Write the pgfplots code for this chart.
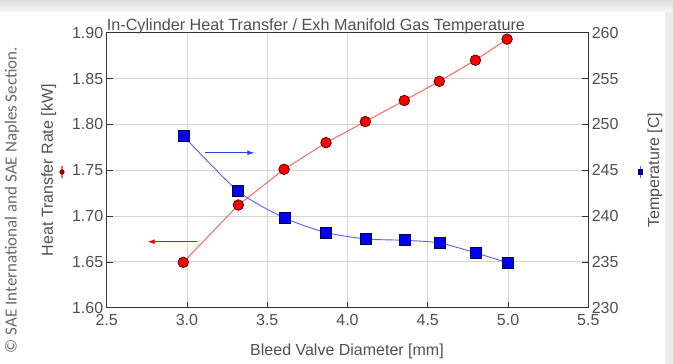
\documentclass[border=0pt]{standalone}
\usepackage{pgfplots}
\pgfplotsset{compat=1.18}
\usetikzlibrary{arrows.meta,calc}
\usepackage{fontspec}
\setmainfont{Liberation Sans}
\newfontfamily\calfont{Carlito}
\definecolor{txt}{HTML}{505050}
\definecolor{gridc}{HTML}{D4D4D4}
\definecolor{redline}{HTML}{FF5A5A}
\definecolor{blueline}{HTML}{5A5AFF}
\definecolor{redmark}{HTML}{FF0000}
\definecolor{bluemark}{HTML}{0000FF}
\definecolor{arrblue}{HTML}{1F4FD8}
\pgfplotsset{
  common/.style={
    at={(0,0)}, anchor=south west, scale only axis,
    width=481.6bp, height=275bp,
    xmin=2.5, xmax=5.5,
    tick align=inside, major tick length=6bp,
    tick style={color=black!80, line width=0.7bp},
    axis line style={color=black!80, line width=0.8bp},
    ticklabel style={font=\fontsize{16bp}{19bp}\selectfont, text=txt},
    /pgf/number format/assume math mode=true,
  }
}
\begin{document}
\begin{tikzpicture}
\useasboundingbox (-106.7bp,-56.3bp) rectangle (566.3bp,307.7bp);
\fill[white] (-106.7bp,-56.3bp) rectangle (566.3bp,307.7bp);
\fill[top color=black!12, bottom color=black!3] (-106.7bp,295.7bp) rectangle (566.3bp,307.7bp);
\fill[black!8] (558.3bp,-56.3bp) rectangle (566.3bp,295.7bp);
\node[rotate=90, text=txt!85, font=\calfont\fontsize{17bp}{20bp}\selectfont, anchor=center] at (-94.7bp,107.7bp) {© SAE International and SAE Naples Section.};

\begin{axis}[common,
  ymin=1.6, ymax=1.9,
  xtick={2.5,3,3.5,4,4.5,5,5.5},
  ytick={1.6,1.65,1.7,1.75,1.8,1.85,1.9},
  ytick pos=left, xtick pos=bottom,
  xticklabel style={yshift=-3bp, /pgf/number format/.cd, fixed, fixed zerofill, precision=1},
  yticklabel style={/pgf/number format/.cd, fixed, fixed zerofill, precision=2},
  grid=major, major grid style={color=gridc, line width=0.8bp},
  xlabel={Bleed Valve Diameter [mm]},
  ylabel={Heat Transfer Rate [kW]},
  every axis x label/.style={at={(axis description cs:0.499,-0.16)}, anchor=center, font=\fontsize{16bp}{19bp}\selectfont, text=txt},
  every axis y label/.style={at={(axis description cs:-0.1205,0.5)}, rotate=90, anchor=center, font=\fontsize{16bp}{19bp}\selectfont, text=txt},
  title={In-Cylinder Heat Transfer / Exh Manifold Gas Temperature},
  every axis title/.style={at={(axis description cs:0,1)}, anchor=base west, inner sep=0pt, yshift=2.5bp, font=\fontsize{16.2bp}{19bp}\selectfont, text=txt},
  clip=false,
]
\addplot[color=redline, line width=0.9bp, mark=*, mark size=5.3bp,
  mark options={fill=redmark, draw=black!75!red, line width=0.7bp}]
  coordinates {(2.977,1.6495)(3.32,1.712)(3.605,1.751)(3.866,1.780)(4.111,1.803)(4.354,1.826)(4.572,1.847)(4.797,1.870)(4.994,1.893)};
\draw[red, line width=0.9bp, -{Latex[length=7bp,width=5bp]}] (axis cs:3.06,1.672) -- (axis cs:2.755,1.672);
\draw[redline, line width=1.2bp] (axis description cs:-0.0928,0.4715) -- (axis description cs:-0.0928,0.5155);
\fill[black!40!red] (axis description cs:-0.0928,0.4935) circle (2.6bp);
\end{axis}

\begin{axis}[common,
  ymin=230, ymax=260,
  ytick={230,235,240,245,250,255,260},
  axis y line*=right, axis x line=none,
  ylabel={Temperature [C]},
  every axis y label/.style={at={(axis description cs:1.1385,0.5)}, rotate=90, anchor=center, font=\fontsize{16bp}{19bp}\selectfont, text=txt},
  clip=false,
]
\addplot[color=blueline, line width=0.9bp, smooth, tension=0.45, mark=square*, mark size=5.5bp,
  mark options={fill=bluemark, draw=black!75!blue, line width=0.7bp, solid}]
  coordinates {(2.98,248.7)(3.32,242.7)(3.607,239.8)(3.866,238.2)(4.116,237.5)(4.357,237.35)(4.575,237.06)(4.799,235.97)(4.998,234.9)};
\draw[arrblue, line width=0.9bp, -{Latex[length=7bp,width=5bp]}] (axis cs:3.11,246.9) -- (axis cs:3.42,246.9);
\draw[blueline, line width=1.2bp] (axis description cs:1.1088,0.4715) -- (axis description cs:1.1088,0.5155);
\fill[black!40!blue] ($(axis description cs:1.1088,0.4935)+(-2.6bp,-2.6bp)$) rectangle ++(5.2bp,5.2bp);
\end{axis}
\end{tikzpicture}
\end{document}
